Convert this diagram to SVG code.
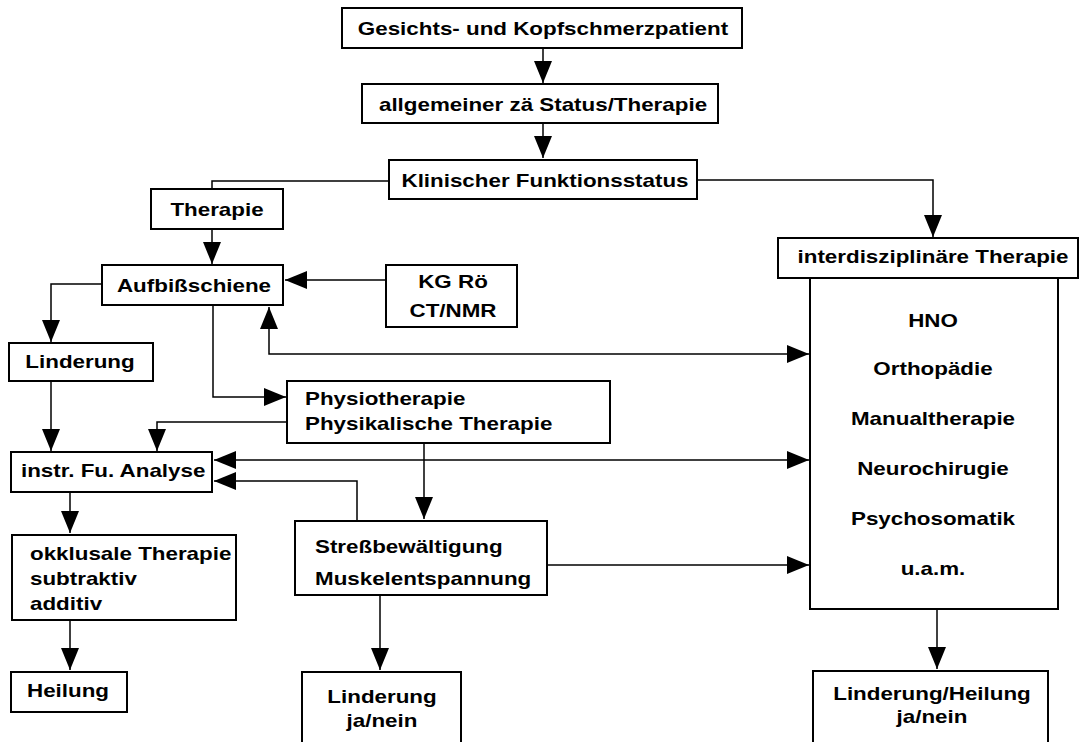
<svg xmlns="http://www.w3.org/2000/svg" width="1080" height="742" viewBox="0 0 1080 742">
<style>
.box{fill:#fff;stroke:#000;stroke-width:2}
.c{fill:none;stroke:#000;stroke-width:1.5}
text{font-family:"Liberation Sans",Arial,Helvetica,sans-serif;font-weight:bold;font-size:18.5px;fill:#000}
.m{text-anchor:middle}
</style>
<defs>
<marker id="ah" viewBox="0 0 22 18" refX="22" refY="9" markerWidth="22" markerHeight="18" markerUnits="userSpaceOnUse" orient="auto-start-reverse">
<path d="M0,0 L22,9 L0,18 z" fill="#000"/>
</marker>
</defs>
<rect width="1080" height="742" fill="#fff"/>
<g id="connectors">
<path class="c" d="M543,48 L543,83" marker-end="url(#ah)"/>
<path class="c" d="M543,123 L543,158" marker-end="url(#ah)"/>
<path class="c" d="M389,181 L212,181 L212,189"/>
<path class="c" d="M697,180 L933,180 L933,237" marker-end="url(#ah)"/>
<path class="c" d="M212,229 L212,264" marker-end="url(#ah)"/>
<path class="c" d="M386,280 L285,280" marker-end="url(#ah)"/>
<path class="c" d="M102,284 L51,284 L51,342" marker-end="url(#ah)"/>
<path class="c" d="M269,307 L269,354 L809,354" marker-start="url(#ah)" marker-end="url(#ah)"/>
<path class="c" d="M213,305 L213,397 L286,397" marker-end="url(#ah)"/>
<path class="c" d="M51,381 L51,451" marker-end="url(#ah)"/>
<path class="c" d="M287,422 L157,422 L157,451" marker-end="url(#ah)"/>
<path class="c" d="M214,460 L809,460" marker-start="url(#ah)" marker-end="url(#ah)"/>
<path class="c" d="M357,521 L357,481 L214,481" marker-end="url(#ah)"/>
<path class="c" d="M424,443 L424,519" marker-end="url(#ah)"/>
<path class="c" d="M547,565 L809,565" marker-end="url(#ah)"/>
<path class="c" d="M70,492 L70,533" marker-end="url(#ah)"/>
<path class="c" d="M70,620 L70,670" marker-end="url(#ah)"/>
<path class="c" d="M380,595 L380,670" marker-end="url(#ah)"/>
<path class="c" d="M937,609 L937,669" marker-end="url(#ah)"/>
</g>
<g id="n1"><rect class="box" x="342" y="8" width="400" height="40"/><text class="m" transform="translate(543,35) scale(1.21,1)">Gesichts- und Kopfschmerzpatient</text></g>
<g id="n2"><rect class="box" x="362" y="84" width="356" height="39"/><text class="m" transform="translate(543,111) scale(1.21,1)">allgemeiner zä Status/Therapie</text></g>
<g id="n3"><rect class="box" x="389" y="160" width="308" height="39"/><text class="m" transform="translate(545,187) scale(1.21,1)">Klinischer Funktionsstatus</text></g>
<g id="n4"><rect class="box" x="151" y="189" width="132" height="40"/><text class="m" transform="translate(217,216) scale(1.21,1)">Therapie</text></g>
<g id="n5"><rect class="box" x="102" y="265" width="181" height="40"/><text class="m" transform="translate(194,292) scale(1.21,1)">Aufbißschiene</text></g>
<g id="n6"><rect class="box" x="386" y="265" width="131" height="62"/><text class="m" transform="translate(453,288) scale(1.21,1)">KG Rö</text><text class="m" transform="translate(453,317) scale(1.21,1)">CT/NMR</text></g>
<g id="n7"><rect class="box" x="9" y="343" width="144" height="38"/><text class="m" transform="translate(80,368) scale(1.21,1)">Linderung</text></g>
<g id="n8"><rect class="box" x="287" y="381" width="323" height="62"/><text transform="translate(305,405) scale(1.21,1)">Physiotherapie</text><text transform="translate(305,430) scale(1.21,1)">Physikalische Therapie</text></g>
<g id="n9"><rect class="box" x="11" y="452" width="201" height="40"/><text transform="translate(21,477) scale(1.21,1)">instr. Fu. Analyse</text></g>
<g id="n10"><rect class="box" x="12" y="535" width="224" height="85"/><text transform="translate(30,560) scale(1.21,1)">okklusale Therapie</text><text transform="translate(30,585) scale(1.21,1)">subtraktiv</text><text transform="translate(30,610) scale(1.21,1)">additiv</text></g>
<g id="n11"><rect class="box" x="11" y="672" width="116" height="40"/><text transform="translate(27,697) scale(1.21,1)">Heilung</text></g>
<g id="n12"><rect class="box" x="295" y="521" width="252" height="74"/><text transform="translate(315,553) scale(1.21,1)">Streßbewältigung</text><text transform="translate(315,585) scale(1.21,1)">Muskelentspannung</text></g>
<g id="n13"><rect class="box" x="302" y="672" width="159" height="80"/><text class="m" transform="translate(382,703) scale(1.21,1)">Linderung</text><text class="m" transform="translate(382,727) scale(1.21,1)">ja/nein</text></g>
<g id="n14"><rect class="box" x="778" y="238" width="300" height="40"/><text class="m" transform="translate(933,263) scale(1.21,1)">interdisziplinäre Therapie</text></g>
<g id="n15"><rect class="box" x="810" y="278" width="248" height="331"/>
<text class="m" transform="translate(933,327) scale(1.21,1)">HNO</text>
<text class="m" transform="translate(933,375) scale(1.21,1)">Orthopädie</text>
<text class="m" transform="translate(933,425) scale(1.21,1)">Manualtherapie</text>
<text class="m" transform="translate(933,475) scale(1.21,1)">Neurochirugie</text>
<text class="m" transform="translate(933,525) scale(1.21,1)">Psychosomatik</text>
<text class="m" transform="translate(933,575) scale(1.21,1)">u.a.m.</text></g>
<g id="n16"><rect class="box" x="813" y="671" width="235" height="80"/><text class="m" transform="translate(932,700) scale(1.21,1)">Linderung/Heilung</text><text class="m" transform="translate(932,723) scale(1.21,1)">ja/nein</text></g>
</svg>
